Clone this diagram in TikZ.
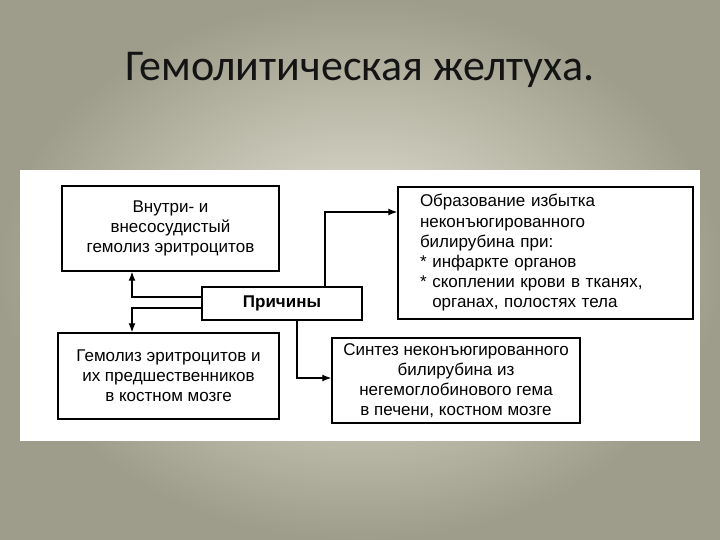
\documentclass[tikz,border=0pt]{standalone}
\usepackage{fontspec}
\setmainfont{Liberation Sans}
\newfontfamily\titlefont{Carlito}
\usetikzlibrary{positioning, calc, arrows.meta}

\definecolor{bgin}{RGB}{234,232,218}
\definecolor{bgout}{RGB}{158,156,138}
\definecolor{titlegray}{RGB}{20,20,20}

\begin{document}
\begin{tikzpicture}[
    x=1pt, y=-1pt,
    box/.style={draw, rectangle, line width=1.4pt, align=center, fill=white, font=\fontsize{17}{20.2}\selectfont, inner sep=0pt},
    causebox/.style={box, font=\fontsize{17}{20}\selectfont\bfseries},
    arr/.style={line width=1.3pt, -{Latex[length=9pt,width=7pt]}}
]

    % --- Background ---
    \useasboundingbox (0,0) rectangle (720,540);
    \shade[inner color=bgin, outer color=bgout] (0,0) rectangle (720,540);
    \fill[white] (20,170) rectangle (700,441);

    % --- Title ---
    \node[font=\titlefont\fontsize{44}{48}\selectfont, text=titlegray] (title) at (360,70) {Гемолитическая желтуха.};

    % --- Boxes ---
    \node[box, minimum width=217pt, minimum height=85pt] (intra) at (170.5,228.5)
        {Внутри- и\\внесосудистый\\гемолиз эритроцитов};
    \node[causebox, minimum width=160pt, minimum height=33pt] (cause) at (282,303.5) {Причины};
    \node[box, minimum width=295pt, minimum height=132pt, text width=251pt, align=left, inner xsep=22pt] (excess) at (545.5,253)
        {Образование избытка\\неконъюгированного\\билирубина при:\\{*} инфаркте органов\\{*} скоплении крови в тканях,\\\phantom{* }органах, полостях тела};
    \node[box, minimum width=221pt, minimum height=86pt] (marrow) at (168.5,376)
        {Гемолиз эритроцитов и\\их предшественников\\в костном мозге};
    \node[box, minimum width=248pt, minimum height=85pt] (synth) at (456,380.5)
        {Синтез неконъюгированного\\билирубина из\\негемоглобинового гема\\в печени, костном мозге};

    % --- Bends of the connectors ---
    \coordinate (lx) at (132,0);
    \coordinate (ux) at (325,212);
    \coordinate (dx) at (297,378);

    % --- Connectors ---
    \draw[arr] ([yshift=6.5pt]cause.west) -| (lx |- intra.south);
    \draw[arr] ([yshift=-4.5pt]cause.west) -| (lx |- marrow.north);
    \draw[arr] (ux |- cause.north) |- (ux -| excess.west);
    \draw[arr] (dx |- cause.south) |- (dx -| synth.west);

\end{tikzpicture}
\end{document}
